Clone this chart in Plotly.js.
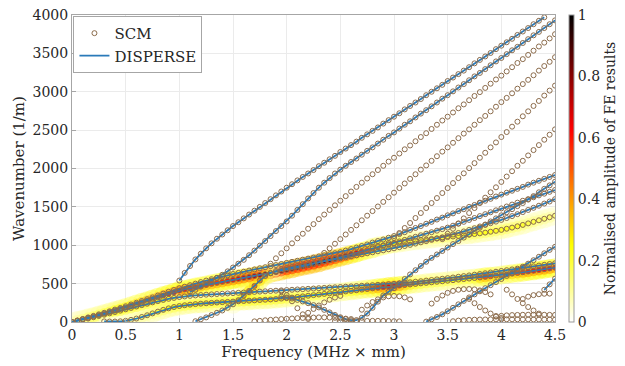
<!DOCTYPE html>
<html><head><meta charset="utf-8">
<script src="https://cdn.plot.ly/plotly-3.0.1.min.js"></script>
<style>html,body{margin:0;padding:0;background:#fff;}#chart{width:625px;height:366px;}</style>
</head><body><div id="chart"></div>
<script>
// SCM frequency grid (MHz x mm)
const freq=[0,0.05,0.1,0.15,0.2,0.25,0.3,0.35,0.4,0.45,0.5,0.55,0.6,0.65,0.7,0.75,0.8,0.85,0.9,0.95,
1,1.05,1.1,1.15,1.2,1.25,1.3,1.35,1.4,1.45,1.5,1.55,1.6,1.65,1.7,1.75,1.8,1.85,1.9,1.95,
2,2.05,2.1,2.15,2.2,2.25,2.3,2.35,2.4,2.45,2.5,2.55,2.6,2.65,2.7,2.75,2.8,2.85,2.9,2.95,
3,3.05,3.1,3.15,3.2,3.25,3.3,3.35,3.4,3.45,3.5,3.55,3.6,3.65,3.7,3.75,3.8,3.85,3.9,3.95,
4,4.05,4.1,4.15,4.2,4.25,4.3,4.35,4.4,4.45,4.5];

// Modes traced by both SCM and DISPERSE: wavenumber (1/m), first frequency
const u1From=1.00, u1K=[540,640,730,815,890,960,1025,1085,1140,1195,1250,1300,1350,1400,1450,1500,1550,1600,1650,1700,1750,1795,1845,1890,1935,1980,2030,2075,2120,2165,2215,2260,2305,2350,2400,2445,2490,2535,2585,2630,2675,2720,2770,2815,2860,2905,2955,3000,3045,3090,3140,3185,3230,3275,3320,3370,3415,3460,3505,3555,3600,3645,3690,3740,3785,3830,3880,3925,3970];
const u2From=1.10, u2K=[390,420,460,500,540,575,615,660,710,760,810,870,930,995,1055,1120,1185,1250,1310,1385,1460,1535,1610,1680,1750,1815,1875,1935,1985,2035,2085,2130,2180,2230,2275,2325,2375,2425,2470,2520,2570,2615,2665,2715,2760,2810,2860,2910,2955,3005,3055,3100,3150,3200,3245,3295,3345,3395,3440,3490,3540,3585,3635,3685,3735,3780,3830,3880,3930];
const b1From=0, b1K=[0,20,40,60,80,100,120,140,162,183,205,228,251,274,297,320,345,370,393,417,440,460,480,500,520,540,558,575,592,608,625,640,655,670,685,700,714,728,742,756,770,784,798,812,826,840,854,868,882,896,910,930,950,970,990,1010,1035,1055,1075,1098,1120,1145,1170,1200,1225,1250,1280,1305,1335,1360,1390,1415,1445,1470,1500,1525,1550,1580,1605,1635,1660,1685,1710,1735,1760,1790,1815,1840,1865,1890,1915];
const b2From=0, b2K=[0,18,36,54,72,90,110,130,150,170,190,212,234,256,278,300,322,344,366,388,410,425,440,455,470,483,497,510,523,536,549,562,575,587,600,612,623,634,650,665,680,695,710,725,740,755,772,790,808,826,844,862,880,900,918,937,955,975,993,1010,1030,1050,1070,1090,1110,1130,1150,1170,1190,1210,1230,1255,1280,1305,1330,1355,1380,1405,1430,1455,1480,1505,1530,1555,1580,1600,1625,1650,1672,1696,1720];
const b3From=1.15, b3K=[10,35,60,90,120,150,185,230,285,345,405,470,540,600,640,665,685,700,714,727,740,753,766,779,792,805,818,830,843,856,869,882,895,908,921,934,947,960,975,990,1005,1022,1038,1054,1070,1087,1103,1120,1140,1160,1180,1200,1222,1245,1265,1287,1308,1330,1355,1380,1405,1432,1460,1488,1515,1543,1570,1600];
const d1From=1.95, d1K=[330,320,305,288,268,245,220,190,158,125,92,62,38,24,25,55,110,185,265,345,395,440,500,560,620,675,730,785,835,880,925,970,1015,1055,1100,1140,1185,1230,1270,1310,1350,1390,1430,1470,1510,1550,1595,1640,1690,1735,1780,1828];
const d2From=3.30, d2K=[5,35,65,100,140,185,230,275,320,360,400,440,480,520,560,600,640,680,720,760,805,850,895,940,980];
const l2From=0, l2K=[0,15,30,45,62,78,95,112,130,148,166,184,202,220,238,256,272,288,302,314,325,333,340,346,351,356,360,364,368,372,376,380,384,388,392,396,400,404,408,412,416,420,424,428,432,436,440,444,448,452,456,460,464,468,472,476,480,484,488,492,497,503,510,517,524,531,539,547,555,563,571,580,589,598,607,616,625,635,645,655,665,675,685,695,705,715,725,735,745,755,765];
const l4From=0.30, l4K=[8,6,6,9,15,28,45,65,88,112,135,158,178,195,208,218,226,233,239,244,249,254,258,262,266,270,274,278,282,286,290,294,299,305,311,318,326,334,342,350,358,366,374,382,390,398,406,414,422,430,438,446,454,461,468,475,482,489,496,503,510,517,524,531,538,545,552,559,566,573,580,588,596,604,612,621,630,639,648,658,668,678,688,698,708];
const s1From=4.40, s1K=[420,490,565];

// Modes found by SCM only
const c3From=1.85, c3K=[760,830,895,960,1025,1090,1150,1215,1275,1340,1400,1460,1520,1580,1640,1700,1760,1815,1870,1925,1980,2035,2090,2140,2195,2250,2300,2355,2410,2460,2515,2570,2625,2675,2730,2785,2835,2890,2945,2995,3050,3105,3160,3210,3265,3320,3375,3425,3480,3535,3590,3640,3695,3750];
const c4From=2.35, c4K=[900,960,1020,1080,1140,1200,1260,1325,1385,1445,1505,1565,1625,1685,1745,1805,1865,1925,1985,2040,2100,2160,2220,2275,2335,2395,2455,2510,2570,2630,2685,2745,2805,2865,2920,2980,3040,3100,3155,3215,3275,3335,3390,3450];
const c5From=2.95, c5K=[1030,1095,1160,1225,1290,1355,1420,1485,1550,1615,1680,1745,1810,1875,1937,2005,2070,2140,2205,2275,2340,2410,2475,2545,2610,2680,2745,2815,2880,2950,3015,3080];
const c6From=3.45, c6K=[1080,1150,1215,1285,1350,1420,1485,1555,1620,1690,1755,1825,1895,1965,2035,2100,2170,2240,2305,2375,2440,2510];
const c7From=2.80, c7K=[975,990,1000,1010,1020,1030,1040,1050,1058,1066,1074,1082,1090,1098,1106,1114,1122,1130,1138,1146,1155,1165,1176,1188,1200,1215,1230,1247,1265,1285,1305,1325,1345,1365,1385];
const r1From=1.70, r1K=[8,15,22,28,33,38,42,46,50,53,56,58,60,60,58,55,50,44,38];
const r2From=2.45, r2K=[12,10,9,9,10,12,14,15,15,14,12,10,8];
const r3From=3.55, r3K=[10,18,24,28,30,32,33,34,34,35,35,35,35,34,34,33,33,32,32,31];
const r4From=3.95, r4K=[70,80,86,90,92,94,95,95,95,94,93,92];
const a1From=1.95, a1K=[400,350,270,180,100,40];
const a2From=2.20, a2K=[120,170,215,255,290,318,340];
const a3From=2.70, a3K=[160,215,260,295,320,335,340,335,320,295];
const a4From=3.35, a4K=[240,300,345,380,405,420,428,430,425,412,390,360];
const a5From=3.70, a5K=[300,245,195,150,110,78,52];
const a6From=4.05, a6K=[420,360,300,245,195,150,110];
const a7From=4.20, a7K=[300,330,350,362,368,370];

// FE results: normalised amplitude along modes (same grid, starting at each mode's first frequency)
const feB2A=[0.12,0.15,0.18,0.2,0.22,0.25,0.28,0.3,0.33,0.36,0.38,0.4,0.42,0.45,0.48,0.5,0.52,0.55,0.57,0.6,
 0.62,0.6,0.57,0.55,0.53,0.53,0.53,0.55,0.57,0.6,0.62,0.65,0.67,0.7,0.72,0.74,0.76,0.78,0.79,0.8,
 0.81,0.82,0.84,0.85,0.86,0.86,0.85,0.84,0.82,0.8,0.77,0.74,0.7,0.64,0.57,0.49,0.42,0.36,0.31,0.27,0.24,0.2,0.16,0.13,0.1];
const feC7A=[0.3,0.3,0.28,0.26,0.25,0.24,0.22,0.2,0.2,0.2,0.2,0.2,0.2,0.2,0.2,0.2,0.2,0.2,0.22,0.22,
 0.22,0.22,0.22,0.22,0.22,0.22,0.2,0.2,0.2,0.18,0.18,0.16,0.15,0.14,0.12];
const feL2A=[0.1,0.12,0.15,0.18,0.2,0.22,0.24,0.25,0.26,0.27,0.28,0.28,0.28,0.28,0.27,0.26,0.25,0.24,0.22,0.2];
const feL4A=[0.05,0.05,0.05,0.06,0.08,0.1,0.12,0.14,0.16,0.18,0.2,0.22,0.24,0.25,0.26,0.27,0.28,0.28,0.28,0.28,
 0.28,0.28,0.28,0.29,0.3,0.3,0.3,0.3,0.3,0.3,0.3,0.3,0.3,0.3,0.28,0.27,0.26,0.25,0.25,0.25,
 0.25,0.25,0.26,0.27,0.28,0.3,0.32,0.35,0.38,0.42,0.48,0.55,0.62,0.66,0.65,0.58,0.48,0.4,0.33,0.3,
 0.28,0.27,0.26,0.25,0.25,0.25,0.26,0.27,0.28,0.3,0.45,0.52,0.5,0.42,0.4,0.42,0.45,0.5,0.55,0.58,0.6,0.62,0.62,0.6,0.55];
const feB3A=[0,0,0,0,0,0,0,0.15,0.25,0.35,0.42,0.45,0.42,0.35,0.25,0.15];

function fx(from,n){const i=Math.round(from/0.05);return freq.slice(i,i+n);}
const blue='#2a7ab9', brown='#8c6c4c';
const serif='DejaVu Serif';
const hot=[[0,'#ffffff'],[0.125,'#ffff80'],[0.25,'#ffff00'],[0.4,'#ff9900'],[0.625,'#ff0000'],[0.8,'#880000'],[1,'#000000']];
const feSets=[[b2From,b2K,feB2A],[c7From,c7K,feC7A],[l2From,l2K,feL2A],[l4From,l4K,feL4A],[b3From,b3K,feB3A]];
const hx=[],hy=[],ha=[];
feSets.forEach(s=>{const f=fx(s[0],s[2].length);s[2].forEach((a,i)=>{if(a>=0.05){hx.push(f[i]);hy.push(s[1][i]);ha.push(a);}});});

const both=[[u1From,u1K],[u2From,u2K],[b1From,b1K],[b2From,b2K],[b3From,b3K],[d1From,d1K],[d2From,d2K],[l2From,l2K],[l4From,l4K],[s1From,s1K]];
const scmOnly=[[c3From,c3K],[c4From,c4K],[c5From,c5K],[c6From,c6K],[c7From,c7K],[r1From,r1K],[r2From,r2K],[r3From,r3K],[r4From,r4K],
 [a1From,a1K],[a2From,a2K],[a3From,a3K],[a4From,a4K],[a5From,a5K],[a6From,a6K],[a7From,a7K]];
const traces=[];
traces.push({x:hx,y:hy,mode:'markers',type:'scatter',showlegend:false,hoverinfo:'skip',
  marker:{size:19,color:ha.map(a=>a*0.4),colorscale:hot,cmin:0,cmax:1,opacity:0.45,line:{width:0},showscale:false}});
traces.push({x:hx,y:hy,mode:'markers',type:'scatter',showlegend:false,hoverinfo:'skip',
  marker:{size:11,color:ha.map(a=>a*0.7),colorscale:hot,cmin:0,cmax:1,opacity:0.5,line:{width:0},showscale:false}});
traces.push({x:hx,y:hy,mode:'markers',type:'scatter',showlegend:false,hoverinfo:'skip',
  marker:{size:5,color:ha,colorscale:hot,cmin:0,cmax:1,opacity:0.95,line:{width:0},
  colorbar:{x:1.029,xanchor:'left',xpad:0,ypad:0,y:0.5,yanchor:'middle',len:1,lenmode:'fraction',thickness:5,outlinecolor:'#9a9a9a',outlinewidth:1,
   tickvals:[0,0.2,0.4,0.6,0.8,1],ticktext:['0','0.2','0.4','0.6','0.8','1'],ticks:'',
   tickfont:{family:serif,size:14,color:'#262626'},
   title:{text:'Normalised amplitude of FE results',side:'right',font:{family:serif,size:14,color:'#262626'}}}}});
both.forEach((c,i)=>traces.push({x:fx(c[0],c[1].length),y:c[1],mode:'lines',type:'scatter',name:'DISPERSE',legendgroup:'d',showlegend:i===0,legendrank:2,
  line:{color:blue,width:1.8},hoverinfo:'skip'}));
both.concat(scmOnly).forEach((c,i)=>traces.push({x:fx(c[0],c[1].length),y:c[1],mode:'markers',type:'scatter',name:'SCM',legendgroup:'s',showlegend:i===0,legendrank:1,
  marker:{symbol:'circle-open',size:5,color:brown,line:{width:1,color:brown}},hoverinfo:'skip'}));
const axfont={family:serif,size:14,color:'#262626'};
Plotly.newPlot('chart',traces,{
  width:625,height:366,margin:{l:72,r:70,t:15,b:44,autoexpand:false},paper_bgcolor:'#fff',plot_bgcolor:'#fff',font:axfont,
  xaxis:{range:[0,4.5],tickvals:[0,0.5,1,1.5,2,2.5,3,3.5,4,4.5],ticktext:['0','0.5','1','1.5','2','2.5','3','3.5','4','4.5'],tickfont:axfont,
    showgrid:true,gridcolor:'#ebebeb',zeroline:false,showline:true,mirror:true,linecolor:'#a6a6a6',ticks:'inside',ticklen:4,tickcolor:'#a6a6a6',
    title:{text:'Frequency (MHz × mm)',font:{family:serif,size:15,color:'#262626'},standoff:4}},
  yaxis:{range:[0,4000],tickvals:[0,500,1000,1500,2000,2500,3000,3500,4000],tickfont:axfont,showgrid:true,gridcolor:'#ebebeb',zeroline:false,showline:true,mirror:true,linecolor:'#a6a6a6',ticks:'inside',ticklen:4,tickcolor:'#a6a6a6',
    title:{text:'Wavenumber (1/m)',font:{family:serif,size:15,color:'#262626'},standoff:4}},
  legend:{x:0.003,y:0.997,xanchor:'left',yanchor:'top',bgcolor:'#fff',bordercolor:'#a6a6a6',borderwidth:1,font:{family:serif,size:15,color:'#262626'},tracegroupgap:0,itemwidth:30,traceorder:'normal'},
  showlegend:true
},{displayModeBar:false,staticPlot:true});
</script></body></html>
